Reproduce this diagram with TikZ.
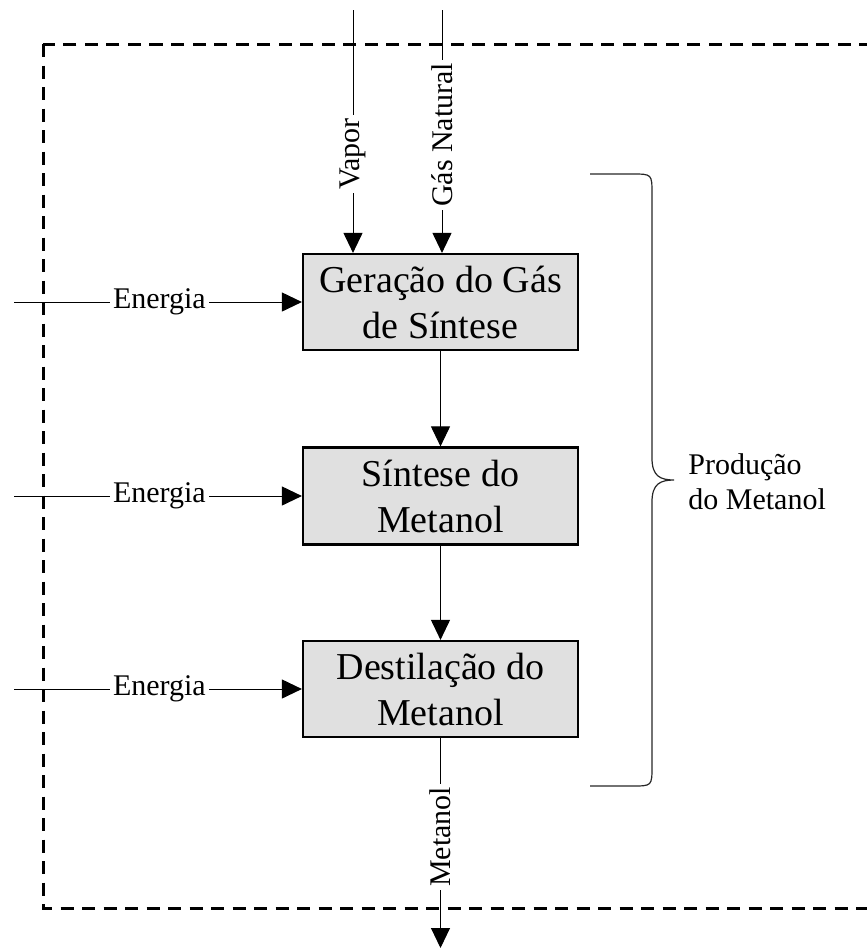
\documentclass[tikz,border=0pt]{standalone}
\usepackage{fontspec}
\setmainfont{Liberation Serif}
\usetikzlibrary{arrows.meta}
\definecolor{boxgray}{RGB}{224,224,224}
\begin{document}
\begin{tikzpicture}[x=0.5pt,y=-0.5pt,
  proc/.style={draw=black, line width=1.1pt, fill=boxgray, minimum width=137.5pt, minimum height=48pt, inner sep=0pt, align=center, font=\fontsize{19}{23}\selectfont},
  flow/.style={line width=0.5pt, -{Triangle[length=10pt,width=9.5pt]}},
  lab/.style={fill=white, inner xsep=1.5pt, inner ysep=0pt, font=\fontsize{15}{18}\selectfont},
  boundary/.style={dash pattern=on 6.5pt off 4.25pt, line width=1.5pt},
  bracestyle/.style={line width=0.6pt, draw=black!85}
]
\useasboundingbox (0,0) rectangle (867,949);
\clip (0,0) rectangle (867,949);

\draw[boundary] (43,44) rectangle (905,908);

\node[proc] (g) at (440.5,302) {Geração do Gás\\de Síntese};
\node[proc, minimum height=48.5pt] (s) at (440.5,496) {Síntese do\\Metanol};
\node[proc] (d) at (440.5,689) {Destilação do\\Metanol};

\coordinate (vin) at (353,10);
\coordinate (gin) at (442,10);
\draw[flow] (vin) -- node[lab, rotate=90, pos=0.593]{Vapor} (vin |- g.north);
\draw[flow] (gin) -- node[lab, rotate=90, pos=0.514]{Gás Natural} (gin |- g.north);

\coordinate (e1) at (14,302);
\coordinate (e2) at (14,496);
\coordinate (e3) at (14,689);
\draw[flow] (e1) -- node[lab, pos=0.505]{Energia} (g.west);
\draw[flow] (e2) -- node[lab, pos=0.505]{Energia} (s.west);
\draw[flow] (e3) -- node[lab, pos=0.505]{Energia} (d.west);

\draw[flow] (g) -- (s);
\draw[flow] (s) -- (d);

\coordinate (mout) at (440.5,948);
\draw[flow] (d) -- node[lab, rotate=90, pos=0.47]{Metanol} (mout);

\draw[bracestyle] (590,174) -- (632,174) .. controls (652,174) .. (652,194) -- (652,458)
  .. controls (652,476) and (660,480) .. (674,480)
  .. controls (660,480) and (652,484) .. (652,502) -- (652,766)
  .. controls (652,786) .. (632,786) -- (590,786);
\node[anchor=west, align=left, inner sep=0pt, font=\fontsize{15}{17.5}\selectfont] (prod) at (688,482) {Produção\\do Metanol};
\end{tikzpicture}
\end{document}
